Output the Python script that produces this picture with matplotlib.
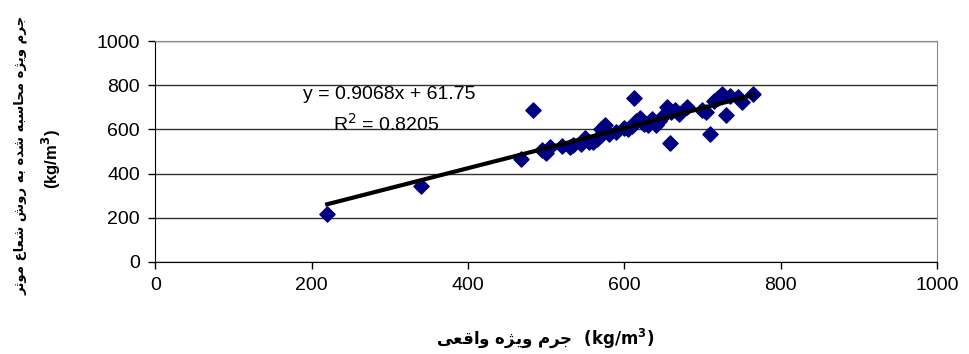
import numpy as np
import matplotlib.pyplot as plt

x_real = [220, 340, 468, 483, 495, 500, 505, 520, 530, 535, 545, 550, 555, 560,
          565, 570, 570, 575, 580, 590, 600, 605, 610, 612, 615, 620, 625, 630,
          635, 640, 645, 650, 655, 658, 660, 665, 670, 680, 700, 705, 710, 715,
          720, 725, 730, 735, 745, 750, 765]
y_calc = [215, 345, 468, 690, 505, 495, 520, 525, 520, 530, 535, 560, 545, 545,
          555, 575, 600, 620, 580, 590, 605, 600, 615, 740, 640, 650, 625, 620,
          645, 620, 640, 660, 700, 540, 680, 690, 670, 700, 690, 680, 580, 730,
          740, 760, 665, 750, 745, 725, 760]
slope, intercept = 0.9068, 61.75
eq_lines = ['y = 0.9068x + 61.75', 'R$^2$ = 0.8205']
x_ticks = [0, 200, 400, 600, 800, 1000]
y_ticks = [0, 200, 400, 600, 800, 1000]
xlabel_fa = 'جرم ویژه واقعی'
ylabel_fa = 'جرم ویژه محاسبه شده به روش شعاع موثر'

# matplotlib has no arabic shaping, so pick presentation forms by hand
forms = {
    'ا': (0xFE8D, 0xFE8E, None, None), 'ب': (0xFE8F, 0xFE90, 0xFE91, 0xFE92),
    'ث': (0xFE99, 0xFE9A, 0xFE9B, 0xFE9C), 'ج': (0xFE9D, 0xFE9E, 0xFE9F, 0xFEA0),
    'ح': (0xFEA1, 0xFEA2, 0xFEA3, 0xFEA4), 'د': (0xFEA9, 0xFEAA, None, None),
    'ر': (0xFEAD, 0xFEAE, None, None), 'ژ': (0xFB8A, 0xFB8B, None, None),
    'س': (0xFEB1, 0xFEB2, 0xFEB3, 0xFEB4), 'ش': (0xFEB5, 0xFEB6, 0xFEB7, 0xFEB8),
    'ع': (0xFEC9, 0xFECA, 0xFECB, 0xFECC), 'ق': (0xFED5, 0xFED6, 0xFED7, 0xFED8),
    'م': (0xFEE1, 0xFEE2, 0xFEE3, 0xFEE4), 'ه': (0xFEE9, 0xFEEA, 0xFEEB, 0xFEEC),
    'و': (0xFEED, 0xFEEE, None, None), 'ی': (0xFBFC, 0xFBFD, 0xFBFE, 0xFBFF),
}


def shape(s):
    out = []
    for i, c in enumerate(s):
        if c not in forms:
            out.append(c)
            continue
        prev = s[i - 1] if i > 0 else ''
        nxt = s[i + 1] if i + 1 < len(s) else ''
        jp = prev in forms and forms[prev][2] is not None
        jn = nxt in forms and forms[c][2] is not None
        idx = 3 if (jp and jn) else 1 if jp else 2 if jn else 0
        out.append(chr(forms[c][idx]))
    return ''.join(reversed(out))


plt.rcParams['font.family'] = ['Liberation Sans', 'DejaVu Sans']

fig = plt.figure(figsize=(9.7, 3.54), dpi=100)
ax = fig.add_axes([0.160, 0.260, 0.806, 0.624])

ax.grid(axis='y', color='#333333', linewidth=1)
ax.set_axisbelow(True)
ax.scatter(x_real, y_calc, marker='D', s=60, color='#000080', zorder=3)

xx = np.array([min(x_real), max(x_real)])
ax.plot(xx, slope * xx + intercept, color='black', linewidth=3, zorder=4)

ax.set_xlim(0, 1000)
ax.set_ylim(0, 1000)
ax.set_xticks(x_ticks)
ax.set_yticks(y_ticks)
ax.tick_params(labelsize=14, length=5, width=1, colors='black', pad=6)
for side in ['top', 'right']:
    ax.spines[side].set_color('#888888')
ax.spines['left'].set_color('black')
ax.spines['bottom'].set_color('black')

ax.text(300, 760, eq_lines[0], fontsize=14, ha='center', va='center')
ax.text(295, 624, eq_lines[1], fontsize=14, ha='center', va='center')

fig.text(0.562, 0.045, shape(xlabel_fa) + '  (kg/m$^\\mathbf{3}$)', fontsize=12,
         fontweight='bold', ha='center', va='center',
         family=['DejaVu Sans'])
fig.text(0.021, 0.56, shape(ylabel_fa), fontsize=9.5, fontweight='bold',
         rotation=90, ha='center', va='center', family=['DejaVu Sans'])
fig.text(0.053, 0.55, '(kg/m$^\\mathbf{3}$)', fontsize=12, fontweight='bold',
         rotation=90, ha='center', va='center', family=['Liberation Sans'])

fig.savefig('out.png', dpi=100)
